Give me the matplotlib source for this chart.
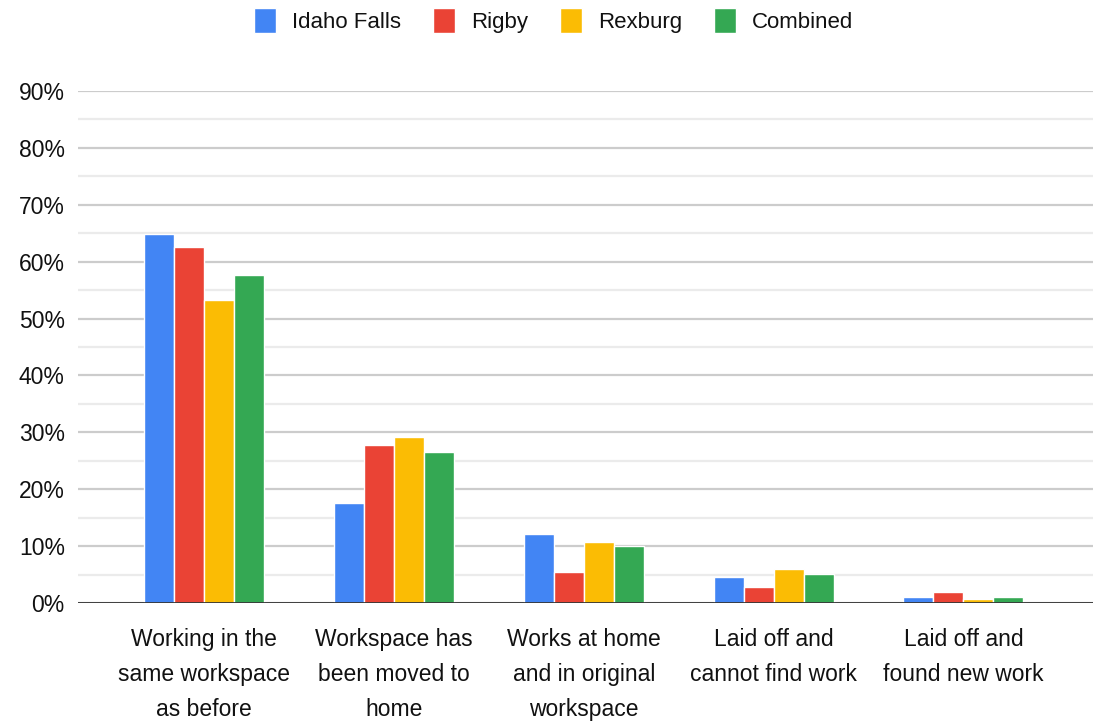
import numpy as np
import matplotlib.pyplot as plt
from matplotlib.ticker import MultipleLocator, PercentFormatter

plt.rcParams['font.family'] = ['Liberation Sans', 'DejaVu Sans']

categories = ["Working in the\nsame workspace\nas before",
              "Workspace has\nbeen moved to\nhome",
              "Works at home\nand in original\nworkspace",
              "Laid off and\ncannot find work",
              "Laid off and\nfound new work"]
series = ["Idaho Falls", "Rigby", "Rexburg", "Combined"]
idaho_falls = [64.9, 17.6, 12.1, 4.6, 1.0]
rigby = [62.6, 27.8, 5.4, 2.8, 1.9]
rexburg = [53.3, 29.2, 10.7, 6.0, 0.7]
combined = [57.6, 26.5, 10.0, 5.1, 1.0]
colors = ["#4285F4", "#EA4335", "#FBBC04", "#34A853"]

fig = plt.figure(figsize=(11.07, 7.21), dpi=100)
ax = fig.add_axes([0.0705, 0.1637, 0.9165, 0.7101])

x = np.arange(len(categories))
slot = 0.158
for i, (name, vals) in enumerate(zip(series, [idaho_falls, rigby, rexburg, combined])):
    ax.bar(x + (i - 1.5) * slot, vals, width=slot, color=colors[i],
           edgecolor="white", linewidth=1.0, label=name, zorder=3)

ax.set_ylim(0, 90)
ax.set_xlim(-0.663, 4.68)
ax.yaxis.set_major_locator(MultipleLocator(10))
ax.yaxis.set_minor_locator(MultipleLocator(5))
ax.yaxis.set_major_formatter(PercentFormatter(decimals=0))
ax.grid(axis="y", which="major", color="#cccccc", linewidth=1.6, zorder=0)
ax.grid(axis="y", which="minor", color="#ebebeb", linewidth=1.6, zorder=0)
ax.axhline(0, color="#333333", linewidth=2.0, zorder=4)

for s in ax.spines.values():
    s.set_visible(False)
ax.tick_params(axis="both", which="both", length=0)
ax.tick_params(axis="y", labelsize=16.5, pad=9.5, labelcolor="#111111")
ax.set_xticks(x)
ax.set_xticklabels(categories, fontsize=16.5, linespacing=1.68, color="#111111")
ax.tick_params(axis="x", pad=18)

fig.legend(loc="upper center", bbox_to_anchor=(0.5, 1.01), ncol=4, frameon=False,
           fontsize=16, handlelength=1.0, handleheight=1.3, handletextpad=0.7,
           columnspacing=1.45, borderaxespad=0.3, labelcolor="#111111")

fig.savefig("out.png", dpi=100)
